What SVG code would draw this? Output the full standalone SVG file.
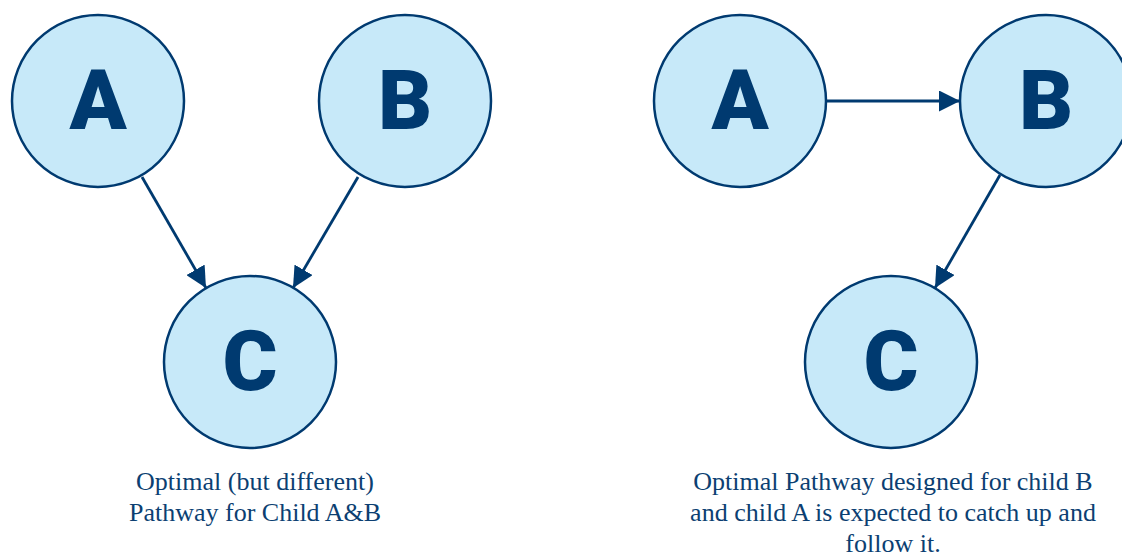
<svg xmlns="http://www.w3.org/2000/svg" width="1122" height="556" viewBox="0 0 1122 556">
<style>
.node circle{fill:#c7e9f9;stroke:#003a70;stroke-width:2.5}
.node text{font-family:Roboto,"Liberation Sans",sans-serif;font-weight:900;font-size:84px;fill:#003a70;text-anchor:middle}
.edge{stroke:#003a70;stroke-width:2.8;fill:none;marker-end:url(#ah)}
.cap{font-family:"Liberation Serif","Times New Roman",serif;font-size:26px;fill:#0c3f72;text-anchor:middle}
</style>
<defs>
<marker id="ah" viewBox="0 0 10 10" refX="10" refY="5" markerWidth="7.5" markerHeight="7.5" markerUnits="strokeWidth" orient="auto">
<path d="M0,0 L10,5 L0,10 Z" fill="#003a70"/>
</marker>
</defs>
<rect width="1122" height="556" fill="#fff"/>
<g id="connectors">
<line class="edge" x1="142" y1="177" x2="206" y2="288"/>
<line class="edge" x1="358" y1="177" x2="293" y2="288"/>
<line class="edge" x1="826" y1="101" x2="960" y2="101"/>
<line class="edge" x1="1000" y1="175" x2="935" y2="288"/>
</g>
<g id="L-A" class="node"><circle cx="98" cy="101" r="86"/><text x="98" y="129">A</text></g>
<g id="L-B" class="node"><circle cx="405" cy="101" r="86"/><text x="405" y="129">B</text></g>
<g id="L-C" class="node"><circle cx="250" cy="362" r="86"/><text x="250" y="390">C</text></g>
<g id="R-A" class="node"><circle cx="740" cy="101" r="86"/><text x="740" y="129">A</text></g>
<g id="R-B" class="node"><circle cx="1046" cy="101" r="86"/><text x="1046" y="129">B</text></g>
<g id="R-C" class="node"><circle cx="891" cy="362" r="86"/><text x="891" y="390">C</text></g>
<g id="captions">
<text class="cap" x="255" y="490">Optimal (but different)</text>
<text class="cap" x="255" y="521">Pathway for Child A&amp;B</text>
<text class="cap" x="893" y="490">Optimal Pathway designed for child B</text>
<text class="cap" x="893" y="521">and child A is expected to catch up and</text>
<text class="cap" x="893" y="552">follow it.</text>
</g>
</svg>
